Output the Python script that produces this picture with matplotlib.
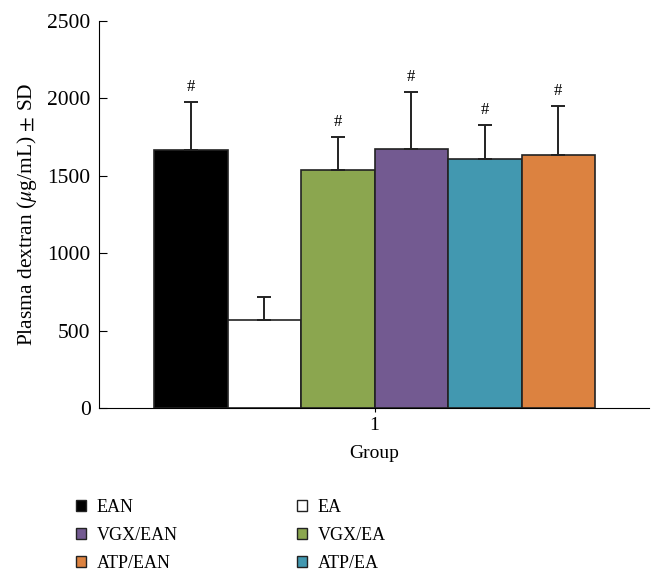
import matplotlib
matplotlib.use("Agg")
import matplotlib.pyplot as plt
from matplotlib.patches import Patch

plt.rcParams['font.family'] = ['Liberation Serif', 'DejaVu Serif']
plt.rcParams['mathtext.fontset'] = 'stix'

# bar order on the axis
groups = ["EAN", "EA", "VGX/EA", "VGX/EAN", "ATP/EA", "ATP/EAN"]
means = [1667, 568, 1535, 1673, 1608, 1636]
sds = [310, 147, 216, 370, 222, 315]
colors = ["#000000", "#ffffff", "#8ba64f", "#735a91", "#4298b0", "#dc8240"]
marks = ["#", "", "#", "#", "#", "#"]
legend_order = ["EAN", "VGX/EAN", "ATP/EAN", "EA", "VGX/EA", "ATP/EA"]

fig = plt.figure(figsize=(6.64, 5.85), dpi=100)
ax = fig.add_axes([0.1491, 0.3026, 0.8283, 0.6615])

w = 0.12
xs = [1 + (i - 2.5) * w for i in range(len(groups))]
ax.bar(xs, means, width=w, color=colors, edgecolor="#222222", linewidth=1.2)
ax.errorbar(xs, means, yerr=[[0] * len(sds), sds], fmt="none", ecolor="#222222",
            elinewidth=1.4, capsize=5, capthick=1.4)
for x, m, s, t in zip(xs, means, sds, marks):
    if t:
        ax.annotate(t, (x, m + s), xytext=(0, 5), textcoords="offset points",
                    ha="center", va="bottom", fontsize=12)

ax.set_xlim(0.550, 1.448)
ax.set_ylim(0, 2500)
ax.set_yticks([0, 500, 1000, 1500, 2000, 2500])
ax.set_xticks([1])
ax.spines["top"].set_visible(False)
ax.spines["right"].set_visible(False)
ax.tick_params(axis="y", direction="in", length=6, labelsize=15.5, pad=6)
ax.tick_params(axis="x", direction="out", length=3, labelsize=14)
ax.set_xlabel("Group", fontsize=14, labelpad=8)
ax.set_ylabel(r"Plasma dextran ($\mu$g/mL) $\pm$ SD", fontsize=15.5, labelpad=6)

handles = [Patch(facecolor=colors[groups.index(g)], edgecolor="#222222", label=g)
           for g in legend_order]
fig.legend(handles=handles, ncol=2, loc="upper left", bbox_to_anchor=(0.09, 0.175),
           frameon=False, fontsize=13, handlelength=0.55, handleheight=0.55,
           handletextpad=0.6, columnspacing=6.6, labelspacing=0.62)

fig.savefig("out.png", dpi=100)
